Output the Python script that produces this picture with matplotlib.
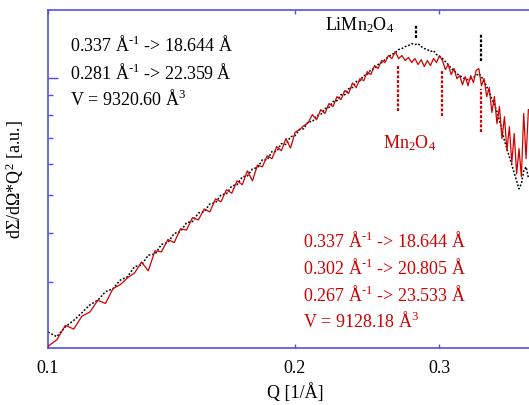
import matplotlib
matplotlib.use("Agg")
import matplotlib.pyplot as plt
from matplotlib.ticker import FixedLocator, NullLocator, LogLocator, NullFormatter

plt.rcParams['font.family'] = ['Liberation Serif', 'DejaVu Serif']
plt.rcParams['mathtext.fontset'] = 'custom'
plt.rcParams['mathtext.rm'] = 'Liberation Serif'
plt.rcParams['mathtext.it'] = 'Liberation Serif:italic'
plt.rcParams['mathtext.bf'] = 'Liberation Serif:bold'

# ---- data ----
q = [0.1000, 0.1025, 0.1050, 0.1075, 0.1100, 0.1125, 0.1150, 0.1175, 0.1200, 0.1225,
     0.1250, 0.1275, 0.1300, 0.1325, 0.1350, 0.1375, 0.1400, 0.1425, 0.1450, 0.1475,
     0.1500, 0.1525, 0.1550, 0.1575, 0.1600, 0.1625, 0.1650, 0.1675, 0.1700, 0.1725,
     0.1750, 0.1775, 0.1800, 0.1825, 0.1850, 0.1875, 0.1900, 0.1925, 0.1950, 0.1975,
     0.2000, 0.2025, 0.2050, 0.2075, 0.2100, 0.2125, 0.2150, 0.2175, 0.2200, 0.2225,
     0.2250, 0.2275, 0.2300, 0.2325, 0.2350, 0.2375, 0.2400, 0.2425, 0.2450, 0.2475,
     0.2500, 0.2525, 0.2550, 0.2575, 0.2600, 0.2625, 0.2650, 0.2675, 0.2700, 0.2725,
     0.2750, 0.2775, 0.2800, 0.2825, 0.2850, 0.2875, 0.2900, 0.2925, 0.2950, 0.2975,
     0.3000, 0.3025, 0.3050, 0.3075, 0.3100, 0.3125, 0.3150, 0.3175, 0.3200, 0.3225,
     0.3250, 0.3275, 0.3300, 0.3325, 0.3350, 0.3375, 0.3400, 0.3425, 0.3450, 0.3475,
     0.3500, 0.3525, 0.3550, 0.3575, 0.3600, 0.3625, 0.3650, 0.3675, 0.3700, 0.3725,
     0.3750, 0.3775, 0.3800, 0.3825, 0.3850]

mn2o4 = [2.05, 2.13, 2.32, 2.27, 2.45, 2.51, 2.69, 2.64, 2.88, 2.95,
         3.07, 3.16, 3.37, 3.20, 3.60, 3.58, 3.85, 3.78, 4.10, 4.07,
         4.38, 4.32, 4.61, 4.53, 4.89, 4.81, 5.16, 5.06, 5.44, 5.32,
         5.77, 5.44, 5.97, 5.91, 6.31, 6.20, 6.66, 6.50, 6.98, 6.60,
         7.24, 7.36, 7.53, 7.66, 8.04, 7.80, 8.28, 8.09, 8.58, 8.43,
         8.94, 8.78, 9.27, 9.10, 9.69, 9.43, 9.94, 9.82, 10.36, 10.18,
         10.74, 10.55, 11.06, 10.93, 11.39, 11.19, 11.66, 11.19, 11.39, 11.06,
         11.26, 10.93, 11.19, 10.80, 11.12, 10.67, 11.06, 10.74, 11.19, 10.93,
         11.39, 11.06, 10.49, 10.80, 10.18, 10.55, 9.94, 10.12, 9.59, 10.06,
         9.53, 10.12, 9.71, 10.43, 10.55, 9.53, 9.94, 8.94, 9.43, 8.14,
         8.94, 7.62, 8.43, 6.98, 7.94, 6.50, 7.49, 6.05, 7.19, 5.67,
         6.58, 5.58, 8.09, 6.20, 8.28]

limn2o4 = [2.23, 2.17, 2.30, 2.39, 2.50, 2.62, 2.69, 2.83, 2.88, 3.03,
           3.09, 3.28, 3.31, 3.51, 3.53, 3.74, 3.78, 3.99, 4.03, 4.25,
           4.28, 4.50, 4.53, 4.75, 4.78, 5.01, 5.04, 5.28, 5.32, 5.57,
           5.60, 5.84, 5.88, 6.16, 6.16, 6.47, 6.47, 6.78, 6.74, 7.06,
           7.10, 7.36, 7.40, 7.71, 7.71, 7.99, 8.04, 8.33, 8.38, 8.68,
           8.73, 9.04, 9.04, 9.37, 9.43, 9.77, 9.82, 10.12, 10.18, 10.49,
           10.55, 10.80, 10.93, 11.12, 11.32, 11.46, 11.59, 11.80, 11.87, 12.01,
           12.08, 12.22, 12.15, 12.22, 12.01, 11.87, 11.80, 11.66, 11.73, 11.46,
           11.32, 11.19, 10.99, 10.80, 10.55, 10.43, 10.24, 10.12, 10.00, 9.94,
           9.88, 9.94, 10.00, 10.12, 10.24, 10.06, 9.77, 9.48, 9.15, 8.84,
           8.53, 8.18, 7.76, 7.32, 6.90, 6.58, 6.27, 5.98, 5.70, 5.44,
           5.19, 5.35, 5.77, 5.91, 5.54]

li_peak_q = [0.281, 0.337]
li_peak_lo = [12.6, 11.0]
li_peak_hi = [13.75, 12.96]
mn_peak_q = [0.267, 0.302, 0.337]
mn_peak_lo = [8.23, 7.99, 7.27]
mn_peak_hi = [10.73, 10.42, 9.37]

x_ticks = [0.1, 0.2, 0.3, 0.4]
x_ticklabels = ['0.1', '0.2', '0.3', '']

li_text = [r"0.337 Å$^{\text{-1}}$ -> 18.644 Å",
           r"0.281 Å$^{\text{-1}}$ -> 22.359 Å",
           r"V = 9320.60 Å$^{3}$"]
mn_text = [r"0.337 Å$^{\text{-1}}$ -> 18.644 Å",
           r"0.302 Å$^{\text{-1}}$ -> 20.805 Å",
           r"0.267 Å$^{\text{-1}}$ -> 23.533 Å",
           r"V = 9128.18 Å$^{3}$"]

RED = '#d00000'
BLUE = '#5050e0'
FS = 13

fig = plt.figure(figsize=(5.29, 4.06), dpi=100)
ax = fig.add_axes([48/529, 57/406, 494/529, 338/406])
ax.set_xscale('log')
ax.set_yscale('log')

ax.plot(q, limn2o4, color='black', linestyle=(0, (1.2, 1.2)), linewidth=1.1, zorder=2)
ax.plot(q, mn2o4, color=RED, linewidth=0.9, zorder=3)

for xq, lo, hi in zip(li_peak_q, li_peak_lo, li_peak_hi):
    ax.plot([xq, xq], [lo, hi], color='black', linestyle=(0, (1.3, 0.8)), linewidth=1.6)
for xq, lo, hi in zip(mn_peak_q, mn_peak_lo, mn_peak_hi):
    ax.plot([xq, xq], [lo, hi], color=RED, linestyle=(0, (1.3, 0.8)), linewidth=1.6)

ax.set_xlim(0.1, 0.4)
ax.set_ylim(2.03, 14.9)

ax.xaxis.set_major_locator(FixedLocator(x_ticks))
ax.set_xticklabels(x_ticklabels)
ax.xaxis.set_minor_locator(NullLocator())
ax.yaxis.set_major_locator(LogLocator(base=10))
ax.yaxis.set_minor_locator(LogLocator(base=10, subs=[2, 3, 4, 5, 6, 7, 8, 9]))
ax.yaxis.set_major_formatter(NullFormatter())
ax.yaxis.set_minor_formatter(NullFormatter())

ax.tick_params(axis='x', which='major', direction='in', length=3, width=1,
               color=BLUE, top=True, bottom=True, labelsize=FS, pad=8)
ax.tick_params(axis='y', which='major', direction='in', length=7, width=1,
               color=BLUE, left=True, right=False)
ax.tick_params(axis='y', which='minor', direction='in', length=3.5, width=1,
               color=BLUE, left=True, right=False)
for s in ax.spines.values():
    s.set_color(BLUE)
    s.set_linewidth(1.2)

ax.set_xlabel("Q [1/Å]", fontsize=FS, labelpad=4)
ax.set_ylabel("dΣ/dΩ*Q$^{2}$ [a.u.]", fontsize=FS, labelpad=12)

li_y = [(349 - b) / 338 for b in (51, 79, 105)]
for t, yy in zip(li_text, li_y):
    ax.text(22/494, yy, t, transform=ax.transAxes, fontsize=FS, color='black',
            va='baseline', ha='left')
mn_y = [(349 - b) / 338 for b in (247, 274, 301, 327)]
for t, yy in zip(mn_text, mn_y):
    ax.text(255/494, yy, t, transform=ax.transAxes, fontsize=FS, color=RED,
            va='baseline', ha='left')

ax.text(277/494, (349-30)/338, r"LiMn$_2$O$_4$", transform=ax.transAxes,
        fontsize=FS, color='black', va='baseline', ha='left')
ax.text(335/494, (349-148)/338, r"Mn$_2$O$_4$", transform=ax.transAxes,
        fontsize=FS, color=RED, va='baseline', ha='left')

fig.savefig("out.png", dpi=100)
